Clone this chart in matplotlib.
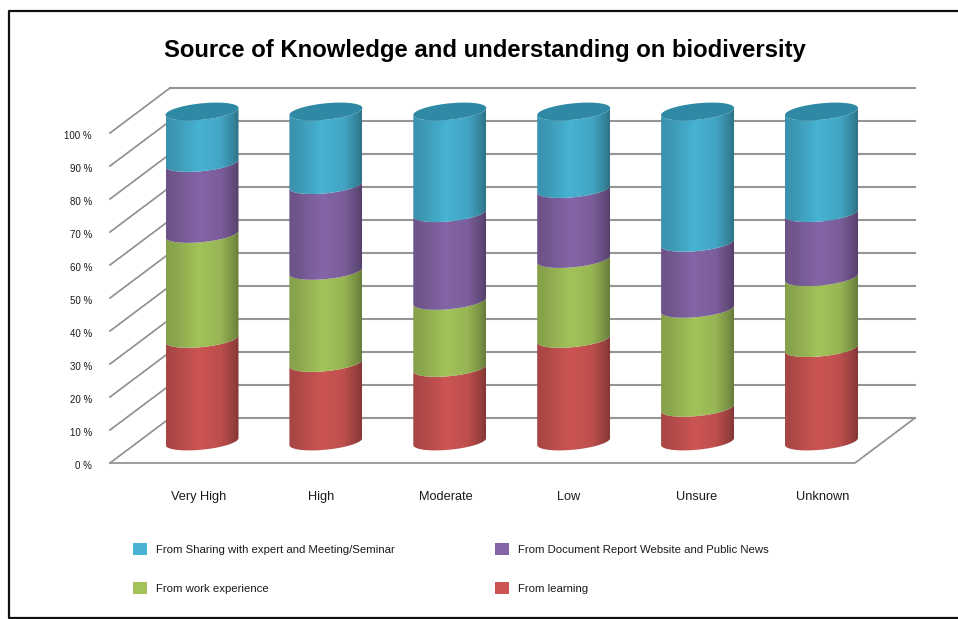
import numpy as np
import matplotlib
matplotlib.use("Agg")
import matplotlib.pyplot as plt
from matplotlib.patches import Patch, PathPatch
from matplotlib.path import Path
from matplotlib.lines import Line2D
from matplotlib.transforms import ScaledTranslation

categories = ["Very High", "High", "Moderate", "Low", "Unsure", "Unknown"]
learning = [31.1, 23.8, 22.3, 31.1, 10.2, 28.3]
work = [31.8, 27.9, 20.3, 24.2, 30.0, 21.5]
document = [21.5, 26.0, 26.6, 21.2, 20.0, 19.4]
sharing = [15.6, 22.3, 30.8, 23.5, 39.8, 30.8]
series_names = ["From learning", "From work experience",
                "From Document Report Website and Public News",
                "From Sharing with expert and Meeting/Seminar"]
series_colors = ["#CC5553", "#A2C35A", "#8465A6", "#47B2D3"]
y_ticks = list(range(0, 101, 10))
y_labels = [f"{v} %" for v in y_ticks]
title = "Source of Knowledge and understanding on biodiversity"

W, H = 958, 619
plt.rcParams["font.family"] = ["Liberation Sans", "DejaVu Sans"]
fig = plt.figure(figsize=(W / 100, H / 100), dpi=100, facecolor="white")

# axes box in pixels
L, R, T, B = 110, 915, 88, 463
ax = fig.add_axes([L / W, 1 - B / H, (R - L) / W, (B - T) / H])
PX_X = 123.9   # px per category
PX_Y = 3.3     # px per percent
X0 = 202
ax.set_xlim((L - X0) / PX_X, (R - X0) / PX_X)
ax.set_ylim(0, (B - T) / PX_Y)
ax.patch.set_visible(False)
for s in ax.spines.values():
    s.set_visible(False)

depth_x = 60 / PX_X
depth_y = 45 / PX_Y
x_left = ax.get_xlim()[0]
x_right = x_left + 745 / PX_X
grid_c = "#959595"
for v in y_ticks:
    ax.plot([x_left, x_left + depth_x], [v, v + depth_y], color=grid_c, lw=1.3, zorder=1, clip_on=False)
    ax.plot([x_left + depth_x, x_right + depth_x], [v + depth_y, v + depth_y], color=grid_c, lw=1.5, zorder=1, clip_on=False)
ax.plot([x_left, x_right, x_right + depth_x], [0, 0, depth_y], color=grid_c, lw=1.3, zorder=1, clip_on=False)

# cylinders
a = 36.5 / PX_X
b = 8.2 / PX_Y
slope = (7 / 73) * (PX_X / PX_Y)
base = 21.5 / PX_Y
t_low = np.linspace(np.pi, 2 * np.pi, 60)

stops = np.array([0.0, 0.12, 0.45, 0.75, 0.93, 1.0])
shade = np.array([0.82, 0.85, 1.0, 0.93, 0.74, 0.64])
gx = np.linspace(0, 1, 200)
gs = np.interp(gx, stops, shade)


def gradient(color, sh=gs):
    rgb = np.array(matplotlib.colors.to_rgb(color))
    return np.clip(sh[None, :, None] * rgb[None, None, :], 0, 1)


def curve(cx, cy, t):
    return cx + a * np.cos(t), cy + b * np.sin(t) + slope * a * np.cos(t)


stack = [learning, work, document, sharing]
for i in range(len(categories)):
    bottom = 0.0
    for vals, col in zip(stack, series_colors):
        top = bottom + vals[i]
        x0, y0 = curve(i, base + bottom, t_low)
        x1, y1 = curve(i, base + top, t_low[::-1])
        verts = np.column_stack([np.r_[x0, x1], np.r_[y0, y1]])
        patch = PathPatch(Path(np.vstack([verts, verts[0]]), closed=True), fc="none", ec="none", transform=ax.transData)
        ax.add_patch(patch)
        im = ax.imshow(gradient(col), extent=[i - a, i + a, base + bottom - 2 * b - 5, base + top + 2 * b + 5],
                       aspect="auto", zorder=3, interpolation="bilinear")
        im.set_clip_path(patch)
        bottom = top
    t_all = np.linspace(0, 2 * np.pi, 120)
    xt, yt = curve(i, base + bottom, t_all)
    ax.fill(xt, yt, color="#2F88A4", lw=0, zorder=4)

ax.set_xlim((L - X0) / PX_X, (R - X0) / PX_X)
ax.set_ylim(0, (B - T) / PX_Y)

label_px = [199, 321, 446, 569, 697, 823]
ax.set_xticks([(p - X0) / PX_X for p in label_px], categories, fontsize=9.2, color="#1a1a1a")
ax.set_yticks(y_ticks, y_labels, fontsize=7.0, color="#1a1a1a")
ax.tick_params(axis="x", length=0, pad=20.5)
ax.tick_params(axis="y", length=0, pad=13)
y_shift = ScaledTranslation(0, -2.0 / 100, fig.dpi_scale_trans)
for lbl in ax.get_yticklabels():
    lbl.set_transform(lbl.get_transform() + y_shift)

handles = [Patch(fc=series_colors[3]), Patch(fc=series_colors[1]), Patch(fc=series_colors[2]), Patch(fc=series_colors[0])]
labels = [series_names[3], series_names[1], series_names[2], series_names[0]]
fig.legend(handles, labels, ncol=2, loc="upper left", bbox_to_anchor=(133 / W, 1 - 543 / H), frameon=False,
           fontsize=8.2, handlelength=1.23, handleheight=1.23, handletextpad=0.8, columnspacing=8.8,
           labelspacing=2.4, borderpad=0, borderaxespad=0, labelcolor="#1a1a1a")

fig.text(485 / W, 1 - 51 / H, title, ha="center", va="center", fontsize=17.2, fontweight="bold", color="black")

# outer frame
frame_x = [1.0, 8.5 / W, 8.5 / W, 1.0]
frame_y = [1 - 10.5 / H, 1 - 10.5 / H, 1 - 617.5 / H, 1 - 617.5 / H]
fig.add_artist(Line2D(frame_x, frame_y, color="#111111", lw=1.6))

fig.savefig("out.png", dpi=100)
